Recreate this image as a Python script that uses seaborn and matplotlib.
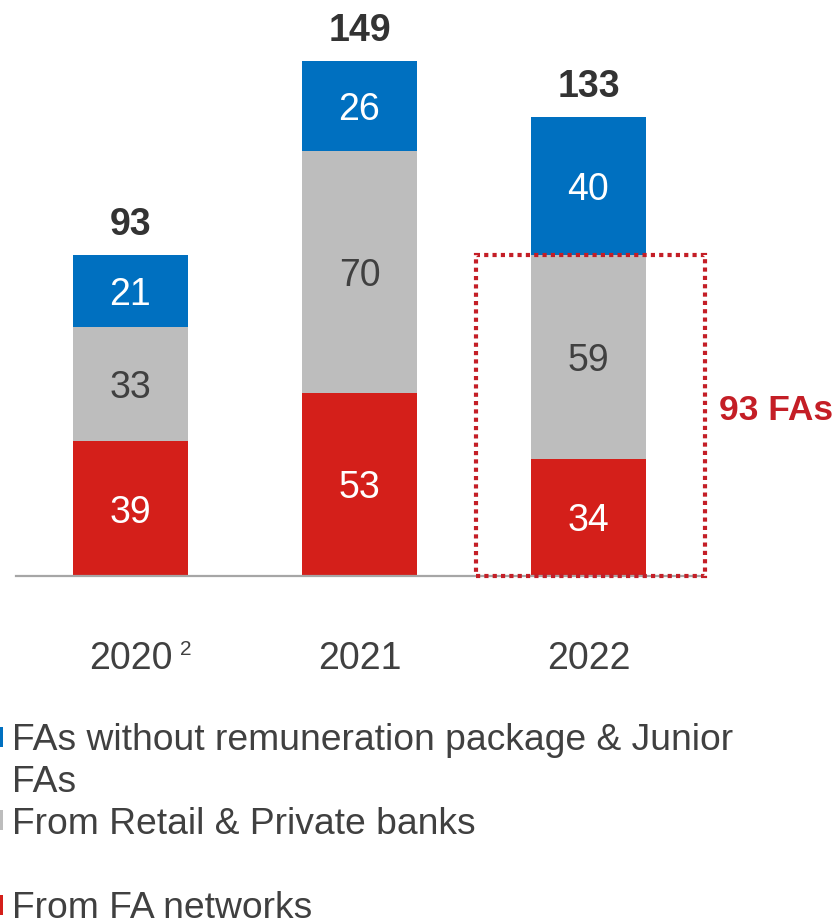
import matplotlib
matplotlib.use("Agg")
import matplotlib.pyplot as plt
import matplotlib.patches as mpatches
import numpy as np
import pandas as pd
import seaborn as sns

# --- data ---------------------------------------------------------------
years = ["2020", "2021", "2022"]
series_names = [
    "FAs without remuneration package & Junior\nFAs",
    "From Retail & Private banks",
    "From FA networks",
]
fa_networks = [39, 53, 34]
retail_private = [33, 70, 59]
no_package_junior = [21, 26, 40]
totals = [93, 149, 133]
highlight_label = "93 FAs"
highlight_year = "2022"

# --- styling ------------------------------------------------------------
sns.set_theme(style="white")
plt.rcParams["font.family"] = ["Liberation Sans", "DejaVu Sans"]

RED = "#D41F1A"
GREY = "#BDBDBD"
BLUE = "#0070C0"
TEXT = "#404040"
BOX_RED = "#C41E26"

df = pd.DataFrame({
    "year": years,
    "networks": fa_networks,
    "retail": retail_private,
    "junior": no_package_junior,
})

fig = plt.figure(figsize=(8.35, 9.24), dpi=100)
ax = fig.add_axes([16 / 835, (924 - 576) / 924, 687 / 835, 570 / 924])

layers = [
    ("networks", RED, "white"),
    ("retail", GREY, TEXT),
    ("junior", BLUE, "white"),
]
bottom = np.zeros(len(years))
for col, color, txt in layers:
    vals = df[col].to_numpy(dtype=float)
    sns.barplot(data=df, x="year", y=col, order=years, color=color,
                saturation=1, width=0.5, bottom=bottom, ax=ax,
                edgecolor="none", linewidth=0)
    for i, v in enumerate(vals):
        ax.text(i, bottom[i] + v / 2, f"{v:.0f}", ha="center",
                va="center_baseline", fontsize=27, color=txt)
    bottom = bottom + vals

# totals above each stack
for i, t in enumerate(totals):
    ax.annotate(f"{t}", xy=(i, t), xytext=(0, 21.5), textcoords="offset points",
                ha="center", va="center", fontsize=27, fontweight="bold",
                color="#333333")

ax.set_xlim(-0.5, 2.5)
ax.set_ylim(0, 165)
ax.set_xlabel("")
ax.set_ylabel("")
ax.set_yticks([])
for side in ["top", "right", "left"]:
    ax.spines[side].set_visible(False)
ax.spines["bottom"].set_color("#A6A6A6")
ax.spines["bottom"].set_linewidth(1.6)
ax.tick_params(axis="x", length=0, pad=47, labelsize=27, labelcolor=TEXT)

# footnote marker on the first year
ax.annotate("2", xy=(0, 0), xytext=(40, -53), textcoords="offset points",
            ha="center", va="center", fontsize=15, color=TEXT,
            annotation_clip=False)

# dotted frame around the bottom two segments of the highlighted year
hi = years.index(highlight_year)
hi_height = fa_networks[hi] + retail_private[hi]
frame = mpatches.Rectangle((hi - 0.491, 0), 1.0, hi_height, fill=False,
                           edgecolor=BOX_RED, linewidth=3,
                           linestyle=(0, (1, 1)), clip_on=False, zorder=5)
ax.add_patch(frame)
ax.text(hi + 0.57, hi_height / 2 + 1.5, highlight_label, ha="left",
        va="center", fontsize=25.5, fontweight="bold", color=BOX_RED,
        clip_on=False)

# legend drawn as stacked text lines with small colour keys
LINE_PX = 41.5
legend_rows = [(series_names[0], BLUE, 737), (series_names[1], GREY, 820),
               (series_names[2], RED, 905)]
for name, color, ypx in legend_rows:
    for k, line in enumerate(name.split("\n")):
        fig.text(12 / 835, 1 - (ypx + k * LINE_PX) / 924, line, ha="left",
                 va="center_baseline", fontsize=26.8, color=TEXT)
    yf = 1 - ypx / 924
    fig.patches.append(mpatches.Rectangle((0, yf - 10 / 924), 3 / 835,
                                          20 / 924, transform=fig.transFigure,
                                          facecolor=color, edgecolor="none"))

fig.savefig("out.png", dpi=100)
